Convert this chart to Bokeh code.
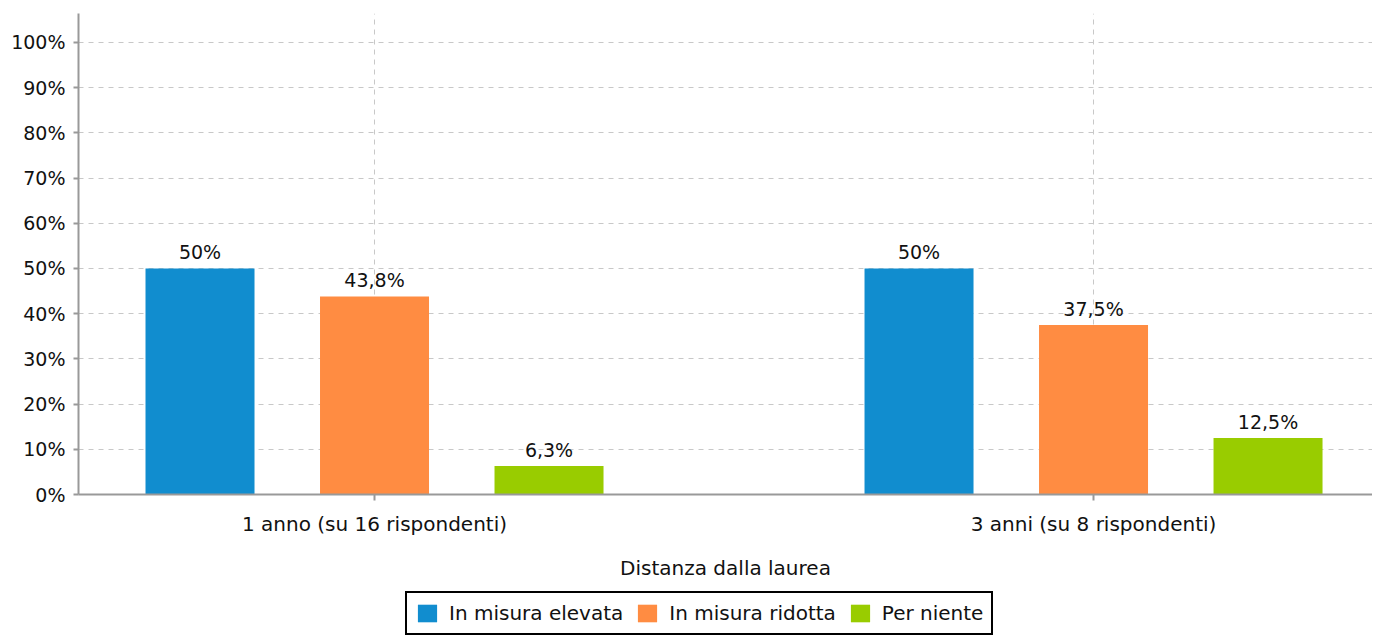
from bokeh.plotting import figure
from bokeh.models import ColumnDataSource, Range1d, FixedTicker, Legend, LegendItem
from bokeh.core.properties import value
from bokeh.transform import dodge
from bokeh.layouts import column
from bokeh.embed import file_html
from bokeh.resources import INLINE

categories = ["1 anno (su 16 rispondenti)", "3 anni (su 8 rispondenti)"]
series_names = ["In misura elevata", "In misura ridotta", "Per niente"]
elevata = [50, 50]
ridotta = [43.8, 37.5]
niente = [6.3, 12.5]
y_ticks = [0, 10, 20, 30, 40, 50, 60, 70, 80, 90, 100]
colors = ["#118DCF", "#FF8C42", "#99CC00"]

FONT = "DejaVu Sans"


def fmt(v):
    s = ("%.1f" % v).rstrip("0").rstrip(".")
    return s.replace(".", ",") + "%"


idx = list(range(len(categories)))
source = ColumnDataSource(dict(
    x=idx,
    elevata=elevata, ridotta=ridotta, niente=niente,
    l_elevata=[fmt(v) for v in elevata],
    l_ridotta=[fmt(v) for v in ridotta],
    l_niente=[fmt(v) for v in niente],
))

p = figure(frame_width=1294, frame_height=481,
           x_range=Range1d(-0.4117, 1.388), y_range=Range1d(0, 106.4),
           output_backend="svg", toolbar_location=None,
           min_border_left=78, min_border_top=13, min_border_right=0,
           min_border_bottom=89)
p.outline_line_color = None

offsets = [-0.2427, 0.0, 0.2427]
keys = ["elevata", "ridotta", "niente"]
for off, key, col in zip(offsets, keys, colors):
    p.vbar(x=dodge("x", off), top=key, width=0.1516, source=source,
           fill_color=col, line_color=None)
    p.text(x=dodge("x", off), y=key, text="l_" + key, source=source,
           text_align="center", text_baseline="bottom", y_offset=-5,
           text_font=value(FONT), text_font_size="19px", text_color="#111111")

# axes
p.yaxis.ticker = FixedTicker(ticks=y_ticks)
p.yaxis.major_label_overrides = {t: f"{t}%" for t in y_ticks}
p.xaxis.ticker = FixedTicker(ticks=idx)
p.xaxis.major_label_overrides = {i: c for i, c in zip(idx, categories)}
p.xaxis.axis_label = "Distanza dalla laurea"

for ax in (p.xaxis, p.yaxis):
    ax.axis_line_color = "#999999"
    ax.axis_line_width = 2
    ax.major_tick_line_color = "#999999"
    ax.major_tick_line_width = 2
    ax.major_tick_in = 0
    ax.minor_tick_line_color = None
    ax.major_label_text_font = FONT
    ax.major_label_text_color = "#111111"
    ax.axis_label_text_font = FONT
    ax.axis_label_text_font_style = "normal"
    ax.axis_label_text_color = "#111111"

p.yaxis.major_tick_out = 5
p.yaxis.major_label_standoff = 8
p.yaxis.major_label_text_font_size = "19px"
p.xaxis.major_tick_out = 6
p.xaxis.major_label_standoff = 11
p.xaxis.major_label_text_font_size = "20px"
p.xaxis.axis_label_text_font_size = "20px"
p.xaxis.axis_label_standoff = 17

# grids
p.xgrid.ticker = FixedTicker(ticks=idx)
p.ygrid.ticker = FixedTicker(ticks=y_ticks)
for g in (p.xgrid, p.ygrid):
    g.grid_line_color = "#C8C8C8"
    g.grid_line_dash = "5 5"
    g.grid_line_width = 1

# legend strip below the chart (its bars lie outside its visible range)
lf = figure(frame_width=1372, frame_height=53,
            x_range=Range1d(0, 1), y_range=Range1d(1000, 1001),
            x_axis_type=None, y_axis_type=None,
            output_backend="svg", toolbar_location=None,
            min_border_left=0, min_border_right=0,
            min_border_top=0, min_border_bottom=0)
lf.outline_line_color = None
lf.xgrid.visible = False
lf.ygrid.visible = False
items = []
for off, key, col, name in zip(offsets, keys, colors, series_names):
    r = lf.vbar(x=dodge("x", off), top=key, width=0.1516, source=source,
                fill_color=col, line_color=None)
    items.append(LegendItem(label=name, renderers=[r]))

legend = Legend(items=items, orientation="horizontal", location=(405, 1),
                border_line_color="#000000", border_line_width=2,
                border_line_alpha=1.0, background_fill_alpha=1.0,
                label_text_font=FONT, label_text_font_size="20px",
                label_text_color="#111111",
                glyph_width=24, glyph_height=22, label_standoff=10,
                spacing=12, padding=8, margin=0,
                label_height=22)
lf.add_layout(legend, "center")

layout = column(p, lf, spacing=0)
open("out.html", "w").write(file_html(layout, INLINE))
